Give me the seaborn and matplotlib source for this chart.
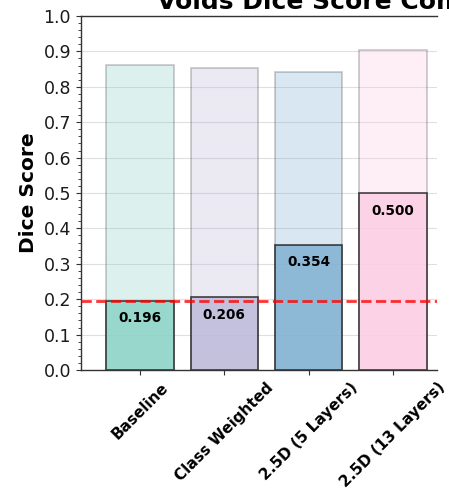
import matplotlib
matplotlib.use("Agg")
import matplotlib.pyplot as plt
from matplotlib.ticker import AutoMinorLocator
import seaborn as sns
import pandas as pd

# Model variants and their scores
models = ["Baseline", "Class Weighted", "2.5D (5 Layers)", "2.5D (13 Layers)"]
void_dice = [0.196, 0.206, 0.354, 0.500]
overall_dice = [0.862, 0.852, 0.843, 0.904]
colors = ["#8dd3c7", "#bebada", "#80b1d3", "#fccde5"]

df = pd.DataFrame({"model": models, "void": void_dice, "overall": overall_dice})

sns.set_style("ticks")
plt.rcParams["font.family"] = ["DejaVu Sans"]

fig = plt.figure(figsize=(4.49, 4.93), dpi=100)
ax = fig.add_axes([0.180, 0.2495, 0.793, 0.718])

# Overall score as a faint backdrop
sns.barplot(data=df, x="model", y="overall", hue="model", palette=colors,
            legend=False, alpha=0.3, edgecolor="#444444", linewidth=1.2,
            width=0.8, saturation=1, ax=ax, zorder=2)
# Voids score in front
sns.barplot(data=df, x="model", y="void", hue="model", palette=colors,
            legend=False, alpha=0.85, edgecolor="#222222", linewidth=1.2,
            width=0.8, saturation=1, ax=ax, zorder=3)

# Value labels inside the voids bars
for i, v in enumerate(void_dice):
    ax.text(i, v - 0.03, f"{v:.3f}", ha="center", va="top",
            fontsize=9.8, fontweight="bold", color="black", zorder=5)

# Baseline reference line
ax.axhline(void_dice[0], color="red", linestyle="--", linewidth=2,
           alpha=0.8, zorder=4)

ax.set_ylim(0, 1.0)
ax.set_xlim(-0.70, 3.52)
ax.set_yticks([i / 10 for i in range(11)])
ax.yaxis.set_minor_locator(AutoMinorLocator(5))
ax.tick_params(axis="y", labelsize=12.5, colors="#333333", labelcolor="#1a1a1a")
ax.tick_params(axis="x", labelsize=11, colors="#333333", labelcolor="black")
ax.grid(axis="y", color="#d8d8d8", linewidth=0.8, alpha=0.8, zorder=0)
ax.set_axisbelow(True)

ax.set_xlabel("")
ax.set_ylabel("Dice Score", fontsize=14.5, fontweight="bold", color="black")
for lbl in ax.get_xticklabels():
    lbl.set_rotation(45)
    lbl.set_ha("center")
    lbl.set_fontweight("bold")

for side in ["left", "bottom", "top"]:
    ax.spines[side].set_color("#333333")
    ax.spines[side].set_linewidth(1.0)
ax.spines["right"].set_visible(False)

fig.text(157 / 449, 1 - 8.5 / 493, "Voids Dice Score Comparison",
         ha="left", va="baseline", fontsize=18, fontweight="bold",
         color="black")

fig.savefig("out.png", dpi=100)
